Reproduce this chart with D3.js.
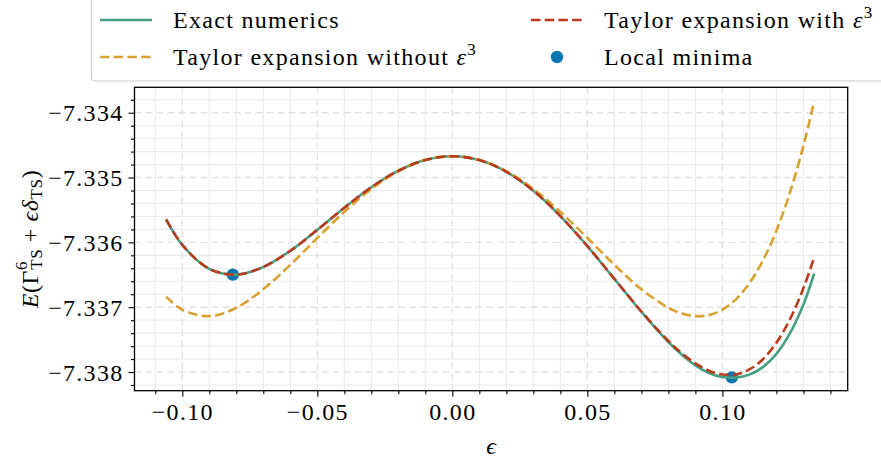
<!DOCTYPE html>
<html>
<head>
<meta charset="utf-8">
<script src="https://cdn.jsdelivr.net/npm/d3@7"></script>
<style>
  body { margin: 0; background: #fff; }
  svg { display: block; }
  svg text { font-family: "Liberation Serif", "DejaVu Serif", serif !important; fill: #000; }
</style>
</head>
<body>
<svg id="chart" width="881" height="461"></svg>
<script>
// ---- data ----
const epsilon = [-0.106, -0.10, -0.09, -0.08, -0.07, -0.06, -0.05, -0.04, -0.03, -0.02, -0.01, 0.00,
                 0.01, 0.02, 0.03, 0.04, 0.05, 0.06, 0.07, 0.08, 0.085, 0.09, 0.095, 0.10, 0.105, 0.11,
                 0.115, 0.12, 0.125, 0.13, 0.134];
const exactNumerics = [-7.335645, -7.336039, -7.336409, -7.336497, -7.336380, -7.336130, -7.335807, -7.335466,
                       -7.335149, -7.334895, -7.334729, -7.334671, -7.334731, -7.334911, -7.335203, -7.335594,
                       -7.336057, -7.336565, -7.337072, -7.337537, -7.337732, -7.337897, -7.338015, -7.338078,
                       -7.338085, -7.338040, -7.337925, -7.337720, -7.337405, -7.336960, -7.336480];
const taylorWith = [-7.335645, -7.336039, -7.336409, -7.336497, -7.336380, -7.336130, -7.335807, -7.335466,
                    -7.335149, -7.334895, -7.334729, -7.334671, -7.334731, -7.334911, -7.335203, -7.335594,
                    -7.336057, -7.336562, -7.337066, -7.337521, -7.337712, -7.337867, -7.337980, -7.338039,
                    -7.338037, -7.337960, -7.337802, -7.337548, -7.337187, -7.336708, -7.336231];
const taylorWithout = [-7.336836, -7.337039, -7.337138, -7.337009, -7.336723, -7.336346, -7.335932, -7.335530,
                       -7.335176, -7.334903, -7.334730, -7.334671, -7.334730, -7.334903, -7.335176, -7.335530,
                       -7.335932, -7.336346, -7.336723, -7.337009, -7.337098, -7.337138, -7.337122, -7.337039,
                       -7.336879, -7.336629, -7.336281, -7.335820, -7.335234, -7.334511, -7.333824];
const minimaEps = [-0.0813, 0.1035];
const minimaE = [-7.336497, -7.338082];

const xMajorTicks = [-0.10, -0.05, 0.00, 0.05, 0.10];
const xMajorLabels = ["\u22120.10", "\u22120.05", "0.00", "0.05", "0.10"];
const yMajorTicks = [-7.334, -7.335, -7.336, -7.337, -7.338];
const yMajorLabels = ["\u22127.334", "\u22127.335", "\u22127.336", "\u22127.337", "\u22127.338"];
const xMinorTicks = [-0.11, -0.09, -0.08, -0.07, -0.06, -0.04, -0.03, -0.02, -0.01,
                     0.01, 0.02, 0.03, 0.04, 0.06, 0.07, 0.08, 0.09, 0.11, 0.12, 0.13, 0.14];
const yMinorTicks = [-7.3382, -7.3378, -7.3376, -7.3374, -7.3372, -7.3368, -7.3366, -7.3364, -7.3362,
                     -7.3358, -7.3356, -7.3354, -7.3352, -7.3348, -7.3346, -7.3344, -7.3342, -7.3338];

const colors = { exact: "#47a084", without: "#d9a130", with: "#b83b1e", minima: "#0a76ad" };
const FONT = '"Liberation Serif", "DejaVu Serif", serif';
const LS = "1.3px";

// ---- layout ----
const L = 134.5, R = 847.7, T = 87.3, B = 390.7;
const x = d3.scaleLinear().domain([-0.1177, 0.1464]).range([L, R]);
const y = d3.scaleLinear().domain([-7.338288, -7.333608]).range([B, T]);

const svg = d3.select("#chart");

// grid: minor solid, major dashed
const grid = svg.append("g");
grid.selectAll(".vminor").data(xMinorTicks).join("line")
  .attr("x1", d => x(d)).attr("x2", d => x(d)).attr("y1", T).attr("y2", B)
  .attr("stroke", "#ebebeb").attr("stroke-width", 1.1);
grid.selectAll(".hminor").data(yMinorTicks).join("line")
  .attr("x1", L).attr("x2", R).attr("y1", d => y(d)).attr("y2", d => y(d))
  .attr("stroke", "#ebebeb").attr("stroke-width", 1.1);
grid.selectAll(".vmajor").data(xMajorTicks).join("line")
  .attr("x1", d => x(d)).attr("x2", d => x(d)).attr("y1", T).attr("y2", B)
  .attr("stroke", "#e2e2e2").attr("stroke-width", 1.4).attr("stroke-dasharray", "7,4");
grid.selectAll(".hmajor").data(yMajorTicks).join("line")
  .attr("x1", L).attr("x2", R).attr("y1", d => y(d)).attr("y2", d => y(d))
  .attr("stroke", "#e2e2e2").attr("stroke-width", 1.4).attr("stroke-dasharray", "7,4");

// minima points (drawn below the lines)
svg.append("g").selectAll("circle").data(minimaEps).join("circle")
  .attr("cx", d => x(d)).attr("cy", (d, i) => y(minimaE[i])).attr("r", 6.2)
  .attr("fill", colors.minima);

const line = d3.line().curve(d3.curveCatmullRom.alpha(0.5))
  .x(d => x(d[0])).y(d => y(d[1]));

svg.append("path").datum(epsilon.map((e, i) => [e, exactNumerics[i]]))
  .attr("d", line).attr("fill", "none").attr("stroke", colors.exact).attr("stroke-width", 2.6);
svg.append("path").datum(epsilon.map((e, i) => [e, taylorWithout[i]]))
  .attr("d", line).attr("fill", "none").attr("stroke", colors.without).attr("stroke-width", 2.6)
  .attr("stroke-dasharray", "9.5,4.2");
svg.append("path").datum(epsilon.map((e, i) => [e, taylorWith[i]]))
  .attr("d", line).attr("fill", "none").attr("stroke", colors.with).attr("stroke-width", 2.6)
  .attr("stroke-dasharray", "9.5,4.2");

// axes
const fmtX = d => xMajorLabels[xMajorTicks.indexOf(d)];
const fmtY = d => yMajorLabels[yMajorTicks.indexOf(d)];

const xAxis = svg.append("g").attr("transform", `translate(0,${B})`)
  .call(d3.axisBottom(x).tickValues(xMajorTicks).tickFormat(fmtX).tickSize(6).tickSizeOuter(0).tickPadding(5));
svg.append("g").attr("transform", `translate(0,${B})`)
  .call(d3.axisBottom(x).tickValues(xMinorTicks).tickFormat("").tickSize(3.5).tickSizeOuter(0));
const yAxis = svg.append("g").attr("transform", `translate(${L},0)`)
  .call(d3.axisLeft(y).tickValues(yMajorTicks).tickFormat(fmtY).tickSize(6).tickSizeOuter(0).tickPadding(5));
svg.append("g").attr("transform", `translate(${L},0)`)
  .call(d3.axisLeft(y).tickValues(yMinorTicks).tickFormat("").tickSize(3.5).tickSizeOuter(0));

svg.selectAll(".domain").remove();
svg.selectAll("g").attr("font-family", null);
svg.selectAll(".tick line").attr("stroke", "#000").attr("stroke-width", 1.1);
svg.selectAll(".tick text").style("font-family", FONT).style("font-size", "24px").style("letter-spacing", LS);
xAxis.selectAll(".tick text").attr("dy", "0.78em");
yAxis.selectAll(".tick text").attr("dy", "0.34em");

// frame
svg.append("rect").attr("x", L).attr("y", T).attr("width", R - L).attr("height", B - T)
  .attr("fill", "none").attr("stroke", "#000").attr("stroke-width", 1.3);

// axis labels
svg.append("text").attr("x", (L + R) / 2).attr("y", 446).attr("text-anchor", "middle")
  .attr("dominant-baseline", "central").style("font-family", FONT).style("font-size", "24px")
  .style("font-style", "italic").text("\u03F5");

const yl = svg.append("text").attr("transform", `translate(30,${(T + B) / 2}) rotate(-90)`)
  .attr("text-anchor", "middle").attr("dominant-baseline", "central")
  .style("font-family", FONT).style("font-size", "24px").style("letter-spacing", "0.6px");
yl.append("tspan").style("font-style", "italic").text("E");
yl.append("tspan").text("(\u0393");
yl.append("tspan").attr("dy", -9).style("font-size", "17px").text("6");
yl.append("tspan").attr("dx", -9).attr("dy", 15).style("font-size", "17px").text("TS");
yl.append("tspan").attr("dy", -6).text(" + ");
yl.append("tspan").style("font-style", "italic").text("\u03F5\u03B4");
yl.append("tspan").attr("dy", 6).style("font-size", "17px").text("TS");
yl.append("tspan").attr("dy", -6).text(")");

// legend
const lg = svg.append("g");
lg.append("rect").attr("x", 91.5).attr("y", -10).attr("width", 900).attr("height", 91)
  .attr("rx", 4).attr("fill", "#fff").attr("fill-opacity", 0.8).attr("stroke", "#cccccc").attr("stroke-width", 1.2);

const legendItems = [
  { kind: "line", color: colors.exact, dash: null, x0: 100, row: 20, label: [["Exact numerics", false, null]] },
  { kind: "line", color: colors.without, dash: "9.5,4.2", x0: 100, row: 57,
    label: [["Taylor expansion without ", false, null], ["\u03B5", true, null], ["3", false, "sup"]] },
  { kind: "line", color: colors.with, dash: "9.5,4.2", x0: 531, row: 20,
    label: [["Taylor expansion with ", false, null], ["\u03B5", true, null], ["3", false, "sup"]] },
  { kind: "dot", color: colors.minima, x0: 531, row: 57, label: [["Local minima", false, null]] }
];
legendItems.forEach(it => {
  if (it.kind === "line") {
    const ln = lg.append("line").attr("x1", it.x0).attr("x2", it.x0 + 52).attr("y1", it.row).attr("y2", it.row)
      .attr("stroke", it.color).attr("stroke-width", 2.6);
    if (it.dash) ln.attr("stroke-dasharray", it.dash);
  } else {
    lg.append("circle").attr("cx", it.x0 + 26).attr("cy", it.row).attr("r", 6.2).attr("fill", it.color);
  }
  const t = lg.append("text").attr("x", it.x0 + 73).attr("y", it.row).attr("dy", "0.35em")
    .style("font-family", FONT).style("font-size", "24px").style("letter-spacing", LS);
  it.label.forEach(([s, ital, pos]) => {
    const ts = t.append("tspan").text(s);
    if (ital) ts.style("font-style", "italic");
    if (pos === "sup") ts.attr("dy", -10).style("font-size", "17px");
  });
});
</script>
</body>
</html>
